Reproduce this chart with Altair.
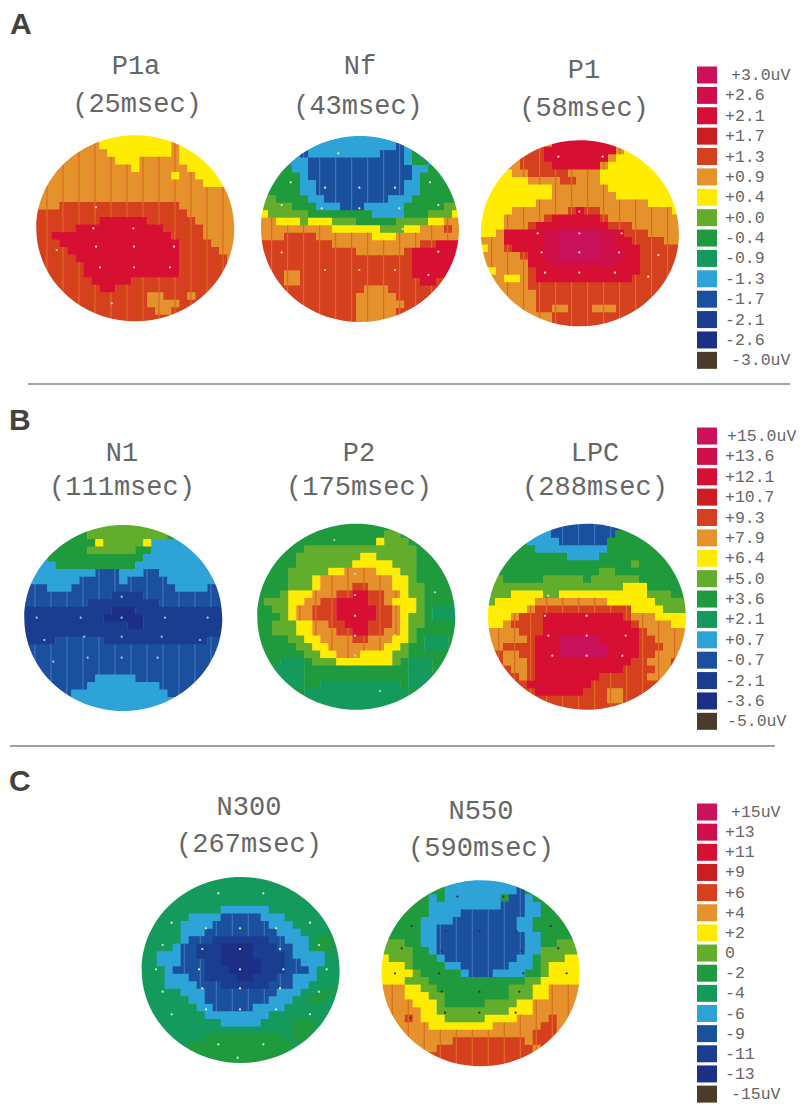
import altair as alt
import pandas as pd

# ---------- values ----------
LEVEL_COLORS = {
    "e": "#c9115c", "d": "#cf0f4a", "c": "#d70f33", "b": "#cb1f22", "a": "#d5401f",
    "9": "#e6922c", "8": "#ffec00", "7": "#62ad2c", "6": "#1f9a3c", "5": "#159a5e",
    "4": "#2ea3d8", "3": "#1b509f", "2": "#1a3d90", "1": "#1c2f86", "0": "#4a3c28",
}
LEVEL_ORDER = list("edcba9876543210")
STRIPE_COLORS = {"a": "#e8772c", "9": "#d2601f", "3": "#4a80c4"}

LEGEND_A = ["+3.0uV", "+2.6", "+2.1", "+1.7", "+1.3", "+0.9", "+0.4", "+0.0",
            "-0.4", "-0.9", "-1.3", "-1.7", "-2.1", "-2.6", "-3.0uV"]
LEGEND_B = ["+15.0uV", "+13.6", "+12.1", "+10.7", "+9.3", "+7.9", "+6.4", "+5.0",
            "+3.6", "+2.1", "+0.7", "-0.7", "-2.1", "-3.6", "-5.0uV"]
LEGEND_C = ["+15uV", "+13", "+11", "+9", "+6", "+4", "+2", "0",
            "-2", "-4", "-6", "-9", "-11", "-13", "-15uV"]

MAP_P1A = """9:8 8:9 9:8|9:8 8:9 9:1 8:7|9:9 8:8 9:1 8:7|9:10 8:3 9:5 8:7|9:12 8:1 9:6 8:6|9:17 8:1 9:2 8:5|9:21 8:4|9:25|9:25|9:3 a:15 9:7|a:19 9:6|a:8 c:6 a:6 9:5|a:5 c:11 a:5 9:4|a:2 c:15 a:4 9:4|a:3 c:15 a:4 9:3|a:4 c:14 a:5 9:2|a:5 c:13 a:6 9:1|a:6 c:12 a:6 9:1|a:6 c:12 a:7|a:7 c:5 a:13|a:8 c:2 a:15|a:14 9:2 a:3 9:1 a:5|a:14 9:4 a:7|a:15 9:2 a:8|a:25"""
MAP_NF = """4:25|4:17 3:1 4:7|4:5 3:1 4:9 3:3 4:1 6:1 4:5|4:6 3:12 4:1 6:2 4:4|6:4 4:2 3:13 4:2 6:4|6:5 4:1 3:13 4:1 6:5|6:5 4:2 3:11 4:2 6:5|6:5 4:2 3:11 4:2 6:5|7:2 6:4 4:2 3:8 4:3 6:6|7:4 6:3 4:3 3:3 4:5 6:5 7:2|8:1 7:5 6:8 4:4 6:3 7:3 8:1|9:2 8:3 7:1 8:3 7:3 6:5 7:4 8:2 9:2|9:9 8:6 7:3 8:2 9:3 a:1 9:1|9:3 a:4 9:7 8:3 9:8|a:9 9:11 a:2 c:3|a:12 9:6 a:1 c:6|a:19 c:6|a:19 c:6|a:3 9:2 a:14 c:5 a:1|a:3 9:2 a:15 c:2 a:3|a:13 9:3 a:9|a:12 9:5 a:8|a:12 9:6 a:7|a:12 9:5 a:8|a:12 9:5 a:8"""
MAP_P1 = """9:9 c:8 9:8|9:6 a:2 c:9 9:1 8:7|9:5 a:3 c:8 9:1 8:8|9:5 a:4 c:6 9:1 8:9|8:4 9:2 a:5 9:4 8:10|8:6 9:4 a:2 9:3 8:10|8:9 9:7 8:9|8:9 9:8 8:8|8:7 9:14 8:4|8:4 9:7 a:1 c:1 a:2 9:9 8:1|8:3 9:5 a:1 c:6 a:1 9:9|8:3 9:3 a:1 c:9 a:3 9:6|8:2 9:1 c:5 d:2 e:5 d:2 c:1 a:3 9:4|9:3 c:5 d:2 e:5 d:2 c:2 a:4 9:2|8:1 9:2 a:1 c:4 d:2 e:5 d:2 c:3 a:5|9:5 a:1 c:2 d:2 e:5 d:3 c:2 a:5|9:6 c:3 d:8 c:3 a:5|9:1 8:1 9:4 a:1 c:13 a:5|9:3 8:2 9:1 a:1 c:12 a:6|9:6 a:19|9:7 a:18|9:7 a:18|9:7 a:2 9:2 a:3 9:3 a:8|9:9 a:16|9:9 a:16"""
MAP_N1 = """7:25|6:8 7:10 6:1 4:6|4:4 6:5 8:1 7:5 8:1 4:9|4:3 6:5 7:6 6:2 4:9|4:3 6:12 4:10|4:4 6:10 4:11|4:9 3:3 4:3 3:2 4:8|3:1 4:6 3:5 4:1 3:5 4:7|3:3 4:3 3:13 4:4 3:2|3:11 2:4 3:10|3:8 2:9 3:8|2:11 1:3 2:11|2:10 1:5 2:10|2:13 1:2 2:10|2:25|2:4 3:6 2:13 3:2|3:25|3:25|3:25|3:25|3:9 4:5 3:11|3:8 4:9 3:8|3:6 4:12 3:7|3:5 4:15 3:5|4:25"""
MAP_P2 = """6:25|6:16 7:2 6:7|6:15 8:1 7:3 6:6|6:6 7:14 6:5|6:5 7:8 8:2 7:5 6:5|6:5 7:7 8:5 7:3 6:5|6:4 7:5 8:2 9:4 8:3 7:2 6:5|6:4 7:3 8:1 9:9 8:2 7:1 6:5|6:4 7:3 8:1 9:4 a:2 9:3 8:2 7:2 6:4|6:3 7:1 8:3 9:3 a:2 c:2 a:2 9:2 8:1 7:2 6:4|6:1 7:3 8:2 9:2 a:2 c:4 a:2 9:1 8:3 7:1 6:4|6:2 7:2 8:1 9:2 a:3 c:5 a:2 9:1 8:2 7:1 6:1 5:3|6:3 7:1 8:1 9:2 a:3 c:5 a:2 9:1 8:1 7:2 6:1 5:3|6:2 7:3 8:2 9:2 a:2 c:3 a:3 9:1 8:1 7:2 6:4|6:2 7:3 8:2 9:3 a:2 c:2 a:2 9:2 8:1 7:1 6:5|6:4 7:2 8:2 9:4 a:2 9:3 8:2 7:1 6:1 5:3 6:1|6:5 7:2 8:2 9:7 8:2 7:1 6:2 5:3 6:1|6:6 7:2 8:2 9:3 8:4 7:2 6:6|6:3 5:3 6:1 7:3 8:7 7:1 6:1 5:3 6:3|6:2 5:4 6:13 5:3 6:3|6:3 5:3 6:13 5:3 6:3|6:3 5:3 6:2 5:10 6:1 5:3 6:3|6:6 5:13 6:6|5:25|5:25"""
MAP_LPC = """4:8 3:9 6:8|6:6 4:2 3:8 6:9|6:5 4:4 3:6 6:10|6:6 4:9 6:10|6:10 4:4 6:11|6:18 7:1 6:6|6:14 7:2 6:9|7:2 6:5 7:5 6:1 7:6 6:6|7:17 8:3 6:5|7:3 8:4 7:2 8:11 7:3 6:2|7:1 8:5 9:9 8:6 7:4|8:5 9:1 a:12 8:4 7:3|8:3 9:1 a:3 c:10 a:1 9:3 8:4|8:2 9:1 a:4 c:11 a:1 9:4 8:2|9:4 a:3 c:12 a:1 9:5|9:5 a:1 c:3 e:5 c:5 a:2 9:4|9:2 a:4 c:3 e:6 c:4 a:3 9:3|a:2 9:2 a:2 c:3 e:6 c:4 a:2 9:3 a:1|a:2 9:3 a:1 c:12 a:2 9:3 a:2|a:3 9:2 a:1 c:11 a:4 9:3 a:1|a:4 9:1 a:1 c:8 a:6 9:3 a:2|a:5 c:8 a:12|a:6 c:6 a:3 9:2 a:8|a:15 9:2 a:8|a:25"""
MAP_N300 = """5:25|5:25|5:25|5:25|5:10 4:6 5:9|5:6 4:4 3:5 4:3 5:7|5:5 4:4 3:7 4:3 5:6|5:5 4:3 3:9 4:3 5:5|5:5 4:1 3:3 2:7 3:2 4:3 5:1 6:2 5:1|5:4 4:1 3:2 2:3 1:4 2:3 3:2 4:2 5:1 6:2 5:1|5:2 4:3 3:2 2:3 1:4 2:4 3:1 4:4 5:2|5:2 4:3 3:3 2:2 1:5 2:3 3:2 4:3 5:2|5:3 4:1 3:4 2:3 1:4 2:3 3:3 4:1 5:3|5:3 4:3 3:2 2:4 1:2 2:3 3:2 4:3 5:3|5:3 4:4 3:3 2:6 3:3 4:2 5:4|5:5 4:3 3:9 4:3 5:2 6:2 5:1|5:6 4:2 3:8 4:3 5:2 6:2 5:2|5:7 4:2 3:5 4:4 5:7|5:8 4:8 5:9|5:10 4:5 5:4 6:3 5:3|5:19 6:3 5:3|5:8 6:10 5:1 6:2 5:4|5:6 6:13 5:6|5:6 6:13 5:6|6:25"""
MAP_N550 = """6:8 4:10 6:7|6:8 4:9 3:1 6:7|6:6 4:1 6:1 4:7 6:1 3:2 4:1 6:6|6:6 4:9 3:3 4:2 6:5|6:6 4:4 3:8 4:2 6:5|6:5 4:4 3:8 4:2 6:6|6:5 4:2 3:10 4:2 6:6|7:1 6:4 4:2 3:11 4:2 6:5|7:3 6:2 4:2 3:11 4:2 6:2 7:3|7:4 6:2 4:1 3:11 4:2 7:5|8:1 7:3 6:3 4:1 3:9 4:2 6:1 7:3 8:2|8:3 7:1 6:4 4:2 3:6 4:3 6:1 7:1 8:4|8:4 7:1 6:5 4:1 3:3 4:4 6:2 7:1 8:4|8:3 7:3 6:12 7:2 8:5|9:3 8:2 7:2 6:9 7:3 8:2 9:4|9:3 8:3 7:2 6:8 7:3 8:2 9:4|9:4 8:3 7:1 6:5 7:4 8:2 9:6|9:5 8:2 7:9 8:3 9:6|9:3 a:1 9:1 8:3 7:5 8:4 9:4 a:1 9:3|9:6 8:8 9:6 a:2 9:3|9:19 a:3 9:3|9:9 a:9 9:1 a:3 9:3|9:7 a:12 9:1 a:1 9:4|9:6 a:13 9:6|9:8 a:9 9:8"""

MAP_TITLES = ["P1a", "Nf", "P1", "N1", "P2", "LPC", "N300", "N550"]
MAP_TIMES = ["(25msec)", "(43msec)", "(58msec)", "(111msec)", "(175msec)",
             "(288msec)", "(267msec)", "(590msec)"]
MAP_GRIDS = [MAP_P1A, MAP_NF, MAP_P1, MAP_N1, MAP_P2, MAP_LPC, MAP_N300, MAP_N550]

# electrode dots
DOTS = [
    [(220,295),(340,295),(228,350),(342,350),(462,350),(240,412),(342,412),(450,412),(228,232),(110,360),(275,520)],
    [(225,188),(328,188),(435,188),(265,85),(122,172),(540,172),(95,240),(215,250),(328,250),(448,250),(565,240),(458,312),(95,382),(225,435),(328,435),(435,435),(565,380),(535,450)],
    [(265,80),(398,80),(328,245),(203,310),(328,310),(455,310),(215,367),(328,367),(447,367),(565,375),(225,428),(328,428),(435,428),(535,440)],
    [(320,275),(197,338),(320,338),(450,338),(65,338),(578,338),(88,405),(208,395),(320,395),(440,395),(555,405),(115,470),(218,458),(320,458),(428,458)],
    [(330,207),(440,207),(330,270),(330,332),(330,392),(330,452),(450,390),(268,105),(570,262),(405,558)],
    [(220,272),(335,272),(80,330),(210,332),(335,332),(220,392),(335,392),(452,392),(232,452),(335,452),(442,452)],
    [(265,100),(400,100),(125,188),(540,188),(228,205),(330,205),(438,205),(98,255),(217,267),(330,267),(450,267),(567,255),(78,328),(207,328),(330,328),(460,328),(590,328),(98,395),(217,385),(330,385),(450,385),(567,395),(125,463),(228,448),(330,448),(438,448),(540,463),(265,553),(400,553),(323,593)],
    [(262,95),(400,95),(125,183),(228,198),(328,198),(440,198),(542,183),(95,250),(215,258),(455,258),(565,250),(75,325),(207,325),(460,325),(590,325),(215,380),(328,380),(448,380),(225,443),(328,443),(437,443),(122,458)],
]

# ---------- layout (page pixels) ----------
CENTERS = [(135.3,228.3),(360,229),(580,233.3),(123.3,618),(356.3,616.7),(587,616.7),(240.7,970),(480.7,973.3)]
CROPS = [(20,130),(250,125),(470,130),(15,505),(245,505),(475,505),(130,860),(370,865)]
DOT_COLORS = ["#f6d9a0","#f4e8a0","#fbdca8","#a8c8e8","#c8d8a0","#f8d0c8","#e8f0c0","#3a3030"]
TITLE_POS = [(136,66,137,104),(360,66,358,106),(584,70,584,108),(122,453,122,487),
             (359,453,359,487),(595,453,595,487),(249,807,249,844),(481,811,481,848)]
CELL_W, CELL_H = 8.0, 7.52
SWATCH_X, SWATCH_W, SWATCH_H = 697, 20, 17
LEG_TOPS = [75, 436, 812]
LEG_STEPS = [20.38, 20.38, 20.15]
LEG_ENDS_X = [731, 727, 731]

cells, stripes = [], []
for m, (grid, (cx, cy)) in enumerate(zip(MAP_GRIDS, CENTERS)):
    for r, row in enumerate(grid.split("|")):
        col = 0
        for run in row.split():
            lv, n = run.split(":")
            n = int(n)
            y0, y1 = cy - 94 + r * CELL_H, cy - 94 + (r + 1) * CELL_H
            cells.append(dict(level=lv, x=cx - 100 + col * CELL_W, x2=cx - 100 + (col + n) * CELL_W + 0.4,
                              y=y0, y2=y1 + 0.8))
            if lv in STRIPE_COLORS:
                for k in range(col, col + n):
                    if k % 2 == 1:
                        sx = cx - 100 + k * CELL_W + 3
                        stripes.append(dict(x=sx, x2=sx + 1.2, y=y0, y2=y1 + 0.3, c=STRIPE_COLORS[lv]))
            col += n

X = alt.X("x:Q", scale=alt.Scale(domain=[8, 796], nice=False, zero=False), axis=None)
Y = alt.Y("y:Q", scale=alt.Scale(domain=[8, 1104], nice=False, zero=False, reverse=True), axis=None)
LEVEL = alt.Scale(domain=LEVEL_ORDER, range=[LEVEL_COLORS[k] for k in LEVEL_ORDER])

cell_layer = alt.Chart(pd.DataFrame(cells)).mark_rect().encode(
    x=X, x2="x2:Q", y=Y, y2="y2:Q",
    color=alt.Color("level:N", scale=LEVEL, legend=None),
)
stripe_layer = alt.Chart(pd.DataFrame(stripes)).mark_rect(opacity=0.75).encode(
    x=X, x2="x2:Q", y=Y, y2="y2:Q",
    color=alt.Color("c:N", scale=None, legend=None),
)

HEAD_MASK = ("M-1.06 -1.06H1.06V1.06H-1.06Z"
             "M-0.99 0A0.99 0.93 0 0 0 0.99 0A0.99 0.93 0 0 0 -0.99 0Z")
mask_layer = alt.Chart(pd.DataFrame([dict(x=c[0], y=c[1]) for c in CENTERS])).mark_point(
    shape=HEAD_MASK, size=40000, filled=True, fill="white", opacity=1, strokeWidth=0,
).encode(x=X, y=Y)

dot_rows = []
for (ox, oy), pts, col in zip(CROPS, DOTS, DOT_COLORS):
    for zx, zy in pts:
        dot_rows.append(dict(x=ox + zx / 3, y=oy + zy / 3, c=col))
dot_layer = alt.Chart(pd.DataFrame(dot_rows)).mark_point(filled=True, size=5, shape="circle", opacity=1).encode(
    x=X, y=Y, color=alt.Color("c:N", scale=None, legend=None))

title_rows = []
for name, t, (a, b, c, d) in zip(MAP_TITLES, MAP_TIMES, TITLE_POS):
    title_rows.append(dict(x=a, y=b, t=name))
    title_rows.append(dict(x=c, y=d, t=t))
title_layer = alt.Chart(pd.DataFrame(title_rows)).mark_text(
    font="Liberation Mono", fontSize=27, color="#666666", align="center", baseline="middle"
).encode(x=X, y=Y, text="t:N")

letters = pd.DataFrame(dict(x=[10, 9, 9], y=[25, 421, 782], t=["A", "B", "C"]))
letter_layer = alt.Chart(letters).mark_text(
    font="Liberation Sans", fontWeight="bold", fontSize=30, color="#45413c", align="left", baseline="middle"
).encode(x=X, y=Y, text="t:N")

seps = pd.DataFrame(dict(x=[28, 10], x2=[790, 775], y=[384, 746]))
sep_layer = alt.Chart(seps).mark_rule(color="#4a4640", strokeWidth=1.2).encode(x=X, x2="x2:Q", y=Y)

sw_rows, lab_rows = [], []
for labels, top, step, end_x in zip([LEGEND_A, LEGEND_B, LEGEND_C], LEG_TOPS, LEG_STEPS, LEG_ENDS_X):
    for i, (lab, lv) in enumerate(zip(labels, LEVEL_ORDER)):
        yc = top + i * step
        sw_rows.append(dict(x=SWATCH_X, x2=SWATCH_X + SWATCH_W, y=yc - SWATCH_H / 2, y2=yc + SWATCH_H / 2, level=lv))
        lab_rows.append(dict(x=end_x if i in (0, 14) else 725, y=yc, t=lab))
swatch_layer = alt.Chart(pd.DataFrame(sw_rows)).mark_rect().encode(
    x=X, x2="x2:Q", y=Y, y2="y2:Q", color=alt.Color("level:N", scale=LEVEL, legend=None))
label_layer = alt.Chart(pd.DataFrame(lab_rows)).mark_text(
    font="Liberation Mono", fontSize=16.5, color="#666666", align="left", baseline="middle"
).encode(x=X, y=Y, text="t:N")

chart = alt.layer(
    cell_layer, stripe_layer, mask_layer, dot_layer, title_layer, letter_layer, sep_layer, swatch_layer, label_layer
).resolve_scale(color="independent").properties(
    width=788, height=1096, padding=0, autosize=alt.AutoSizeParams(type="none"), background="white"
).configure_view(stroke=None)

chart.save("out.html", embed_options={"renderer": "svg", "actions": False})
